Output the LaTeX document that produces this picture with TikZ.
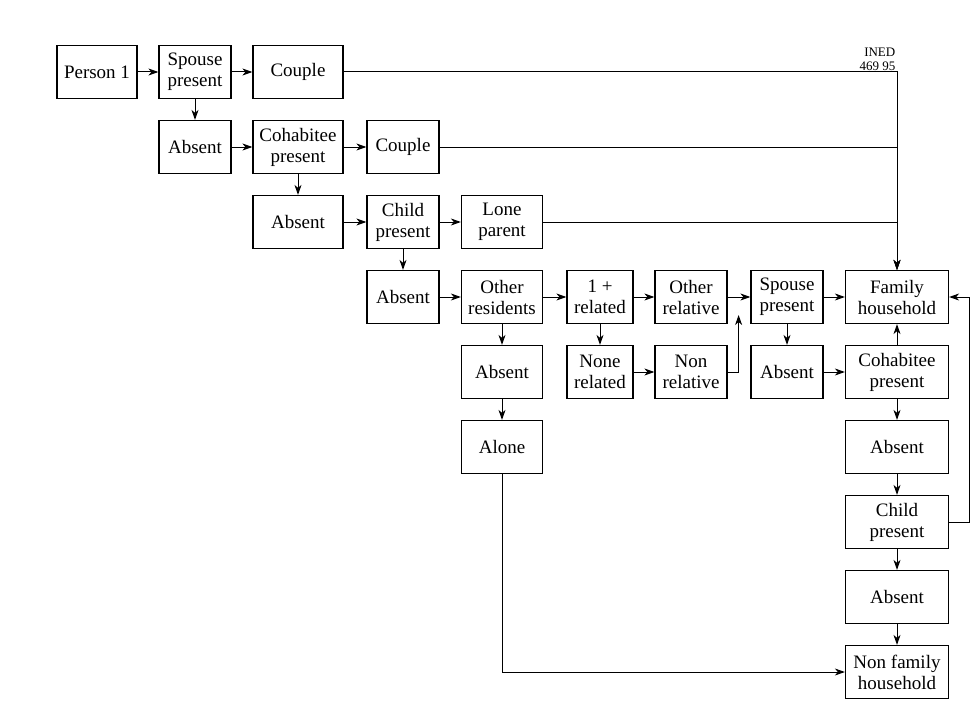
\documentclass[tikz,border=0pt]{standalone}
\usepackage{fontspec}
\setmainfont{Liberation Serif}
\usepackage{tikz}
\usetikzlibrary{shapes,arrows,arrows.meta}
\tikzstyle{block} = [rectangle, draw, line width=1.2pt, align=center,
    minimum width=72pt, minimum height=53pt, inner sep=2pt,
    font=\fontsize{19}{21}\selectfont]
\tikzstyle{smallblock} = [block, minimum width=66pt]
\tikzstyle{midblock} = [block, minimum width=81pt]
\tikzstyle{wideblock} = [block, minimum width=90pt]
\tikzstyle{famblock} = [block, minimum width=103pt]
\tikzstyle{arrow} = [draw, -{Stealth[length=10pt, width=7pt, inset=3pt]}, line width=1pt]
\tikzstyle{line} = [draw, line width=1pt]

\begin{document}
\begin{tikzpicture}[x=1pt, y=1pt, node distance=75pt, auto]
	\useasboundingbox (0,0) rectangle (972,-701);
	% Place nodes
	\node [block, minimum width=80pt] (person) at (97,-72) {Person 1};
	\node [block, right of=person, node distance=98pt] (spouseA) {Spouse\\present};
	\node [wideblock, right of=spouseA, node distance=103pt] (coupleA) {Couple};
	\node [block, below of=spouseA] (absentA) {Absent};
	\node [wideblock, right of=absentA, node distance=103pt] (cohabA) {Cohabitee\\present};
	\node [block, right of=cohabA, node distance=105pt] (coupleB) {Couple};
	\node [wideblock, below of=cohabA] (absentB) {Absent};
	\node [block, right of=absentB, node distance=105pt] (childA) {Child\\present};
	\node [midblock, right of=childA, node distance=99pt] (lone) {Lone\\parent};
	\node [block, below of=childA] (absentC) {Absent};
	\node [midblock, right of=absentC, node distance=99pt] (others) {Other\\residents};
	\node [smallblock, right of=others, node distance=98pt] (related) {1 +\\related};
	\node [block, right of=related, node distance=91pt] (otherrel) {Other\\relative};
	\node [block, right of=otherrel, node distance=96pt] (spouseB) {Spouse\\present};
	\node [famblock, right of=spouseB, node distance=110pt] (family) {Family\\household};
	\node [midblock, below of=others] (absentD) {Absent};
	\node [smallblock, below of=related] (nonerel) {None\\related};
	\node [block, below of=otherrel] (nonrel) {Non\\relative};
	\node [block, below of=spouseB] (absentE) {Absent};
	\node [famblock, below of=family] (cohabB) {Cohabitee\\present};
	\node [midblock, below of=absentD] (alone) {Alone};
	\node [famblock, below of=cohabB] (absentF) {Absent};
	\node [famblock, below of=absentF] (childB) {Child\\present};
	\node [famblock, below of=childB] (absentG) {Absent};
	\node [famblock, below of=absentG] (nonfam) {Non family\\household};
	\node [align=right, anchor=south east, inner sep=1.5pt,
	    font=\fontsize{13}{14}\selectfont] (ined) at (coupleA -| family) {INED\\469 95};
	%
	\path [arrow] (person) -- (spouseA);
	\path [arrow] (spouseA) -- (coupleA);
	\path [arrow] (spouseA) -- (absentA);
	\path [arrow] (absentA) -- (cohabA);
	\path [arrow] (cohabA) -- (coupleB);
	\path [arrow] (cohabA) -- (absentB);
	\path [arrow] (absentB) -- (childA);
	\path [arrow] (childA) -- (lone);
	\path [arrow] (childA) -- (absentC);
	\path [arrow] (absentC) -- (others);
	\path [arrow] (others) -- (related);
	\path [arrow] (others) -- (absentD);
	\path [arrow] (absentD) -- (alone);
	\path [arrow] (related) -- (otherrel);
	\path [arrow] (related) -- (nonerel);
	\path [arrow] (nonerel) -- (nonrel);
	\path [arrow] (nonrel.east) -- ++(11pt,0) -- ++(0,57pt);
	\path [arrow] (otherrel) -- (spouseB);
	\path [arrow] (spouseB) -- (family);
	\path [arrow] (spouseB) -- (absentE);
	\path [arrow] (absentE) -- (cohabB);
	\path [arrow] (cohabB) -- (family);
	\path [arrow] (cohabB) -- (absentF);
	\path [arrow] (absentF) -- (childB);
	\path [arrow] (childB) -- (absentG);
	\path [arrow] (absentG) -- (nonfam);
	\path [arrow] (childB.east) -- ++(20pt,0) |- (family.east);
	\path [arrow] (alone) |- (nonfam);
	% lines into family household
	\path [arrow] (coupleA) -| (family);
	\path [arrow] (coupleB) -| (family);
	\path [arrow] (lone) -| (family);
\end{tikzpicture}
\end{document}
